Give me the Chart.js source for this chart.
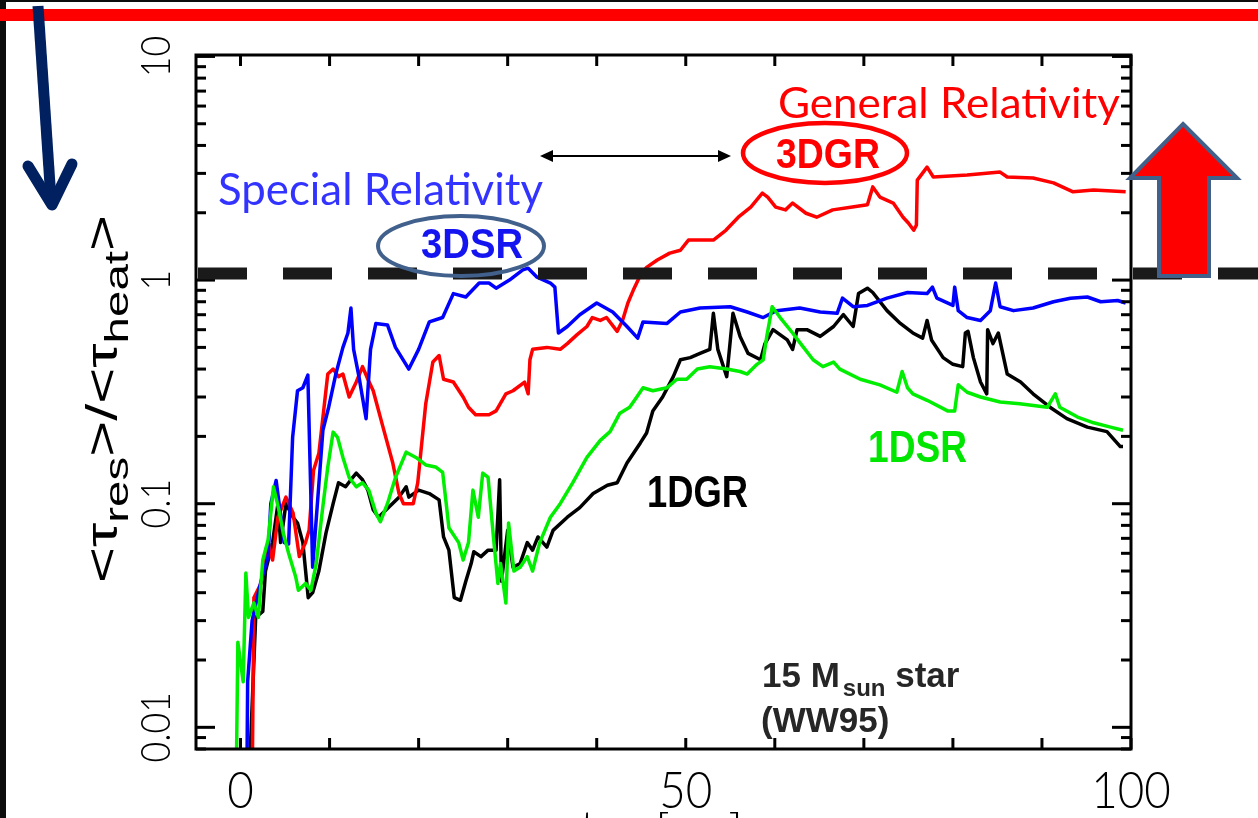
<!DOCTYPE html>
<html>
<head>
<meta charset="utf-8">
<script src="https://cdn.jsdelivr.net/npm/chart.js@4.4.1/dist/chart.umd.min.js"></script>
<style>
  html, body { margin: 0; padding: 0; background: #fff; overflow: hidden; }
  #wrap { position: relative; width: 1258px; height: 818px; }
</style>
</head>
<body>
<div id="wrap"><canvas id="chart" width="1258" height="818"></canvas></div>
<script>
// [t_pb in ms, <tau_res>/<tau_heat>]
var gr1d = [
  [0.9, 0.005], [1.7, 0.031], [2.5, 0.033], [2.8, 0.05], [3.6, 0.067], [4.2, 0.1], [4.5, 0.067],
  [5.1, 0.1], [5.9, 0.087], [6.4, 0.082], [7.0, 0.067], [7.6, 0.038], [8.1, 0.04], [8.8, 0.05],
  [9.6, 0.074], [10.4, 0.1], [11.0, 0.124], [11.8, 0.119], [12.4, 0.128], [13.0, 0.137],
  [13.7, 0.128], [14.3, 0.115], [14.9, 0.094], [15.5, 0.087], [16.7, 0.097], [17.8, 0.107],
  [18.6, 0.119], [18.9, 0.107], [20.0, 0.115], [21.2, 0.111], [22.3, 0.104], [22.8, 0.071],
  [23.4, 0.062], [24.0, 0.038], [24.7, 0.037], [25.3, 0.045], [25.9, 0.054], [26.2, 0.061],
  [27.0, 0.058], [27.8, 0.062], [28.7, 0.062], [29.1, 0.128], [29.3, 0.045], [30.0, 0.076],
  [30.6, 0.052], [31.4, 0.054], [32.2, 0.067], [32.8, 0.062], [33.4, 0.071], [34.4, 0.064],
  [35.1, 0.076], [36.7, 0.087], [38.1, 0.096], [39.6, 0.111], [41.2, 0.121], [42.3, 0.124],
  [43.4, 0.152], [44.9, 0.187], [45.6, 0.207], [46.3, 0.26], [47.4, 0.3], [48.6, 0.37],
  [49.4, 0.44], [50.5, 0.45], [51.6, 0.47], [52.7, 0.49], [53.1, 0.71], [53.6, 0.49],
  [54.6, 0.37], [55.3, 0.71], [56.1, 0.56], [57.0, 0.47], [58.4, 0.44], [58.9, 0.52],
  [59.8, 0.6], [61.4, 0.54], [62.0, 0.49], [62.5, 0.6], [63.6, 0.6], [65.1, 0.56], [66.6, 0.62],
  [67.7, 0.7], [68.8, 0.62], [69.4, 0.87], [70.4, 0.92], [71.0, 0.88], [72.6, 0.73], [74.1, 0.64],
  [75.5, 0.58], [76.6, 0.55], [77.1, 0.66], [77.6, 0.54], [78.9, 0.45], [80.0, 0.42], [81.1, 0.41],
  [81.4, 0.58], [81.7, 0.59], [82.3, 0.45], [83.1, 0.35], [83.8, 0.31], [83.9, 0.6], [84.5, 0.52],
  [85.1, 0.58], [86.1, 0.38], [87.6, 0.35], [89.0, 0.31], [90.9, 0.27], [92.8, 0.24], [95.1, 0.22],
  [97.3, 0.21], [98.8, 0.18], [99.1, 0.18]
];
var gr3d = [
  [1.3, 0.005], [1.5, 0.038], [2.3, 0.044], [3.1, 0.067], [3.6, 0.056], [4.2, 0.087], [5.1, 0.107],
  [5.9, 0.091], [6.6, 0.058], [7.3, 0.067], [7.7, 0.076], [8.2, 0.141], [8.8, 0.168], [9.8, 0.38],
  [10.4, 0.4], [11.0, 0.37], [11.5, 0.38], [12.2, 0.3], [13.0, 0.35], [13.7, 0.41], [14.3, 0.36],
  [14.9, 0.32], [16.0, 0.22], [17.1, 0.152], [17.8, 0.111], [18.3, 0.1], [19.4, 0.1], [19.9, 0.124],
  [20.8, 0.28], [21.6, 0.43], [22.3, 0.46], [22.8, 0.36], [23.9, 0.35], [25.0, 0.3], [25.6, 0.27],
  [26.4, 0.25], [27.9, 0.25], [28.7, 0.26], [29.8, 0.31], [30.6, 0.32], [31.9, 0.35], [32.3, 0.31],
  [32.5, 0.44], [32.8, 0.49], [34.4, 0.5], [35.9, 0.49], [36.7, 0.52], [37.8, 0.57], [38.9, 0.62],
  [39.5, 0.68], [40.4, 0.66], [41.1, 0.68], [42.3, 0.59], [42.9, 0.66], [43.5, 0.79], [44.1, 0.9],
  [44.9, 1.05], [45.6, 1.14], [46.8, 1.23], [48.2, 1.32], [49.4, 1.36], [50.3, 1.51], [53.1, 1.51],
  [54.5, 1.67], [55.9, 1.91], [57.3, 2.12], [58.6, 2.45], [59.2, 2.35], [60.1, 2.12], [61.2, 2.06],
  [62.0, 2.21], [63.5, 1.99], [64.7, 1.91], [66.5, 2.06], [68.7, 2.12], [70.4, 2.17], [71.0, 2.61],
  [71.8, 2.35], [73.3, 2.21], [74.4, 1.91], [75.0, 1.8], [75.6, 1.67], [75.9, 1.76], [76.0, 2.8],
  [77.1, 3.2], [77.8, 2.89], [81.6, 2.95], [85.3, 3.04], [86.1, 2.89], [89.0, 2.86], [91.3, 2.72],
  [93.5, 2.48], [95.8, 2.53], [99.4, 2.48]
];
var sr3d = [
  [0.7, 0.005], [0.8, 0.016], [1.3, 0.03], [2.3, 0.045], [3.1, 0.058], [3.4, 0.1], [4.0, 0.127],
  [4.9, 0.067], [5.4, 0.066], [5.85, 0.198], [6.4, 0.32], [7.0, 0.33], [7.56, 0.376], [8.1, 0.052],
  [9.25, 0.213], [9.9, 0.27], [10.7, 0.38], [11.5, 0.5], [12.06, 0.58], [12.4, 0.75], [12.7, 0.49],
  [13.3, 0.37], [14.1, 0.24], [14.6, 0.49], [15.2, 0.64], [16.5, 0.63], [17.4, 0.5], [18.9, 0.4],
  [20.0, 0.49], [21.2, 0.65], [22.7, 0.68], [23.9, 0.87], [25.3, 0.84], [26.8, 0.97], [27.9, 0.97],
  [28.7, 0.92], [30.2, 1.0], [31.7, 1.11], [32.3, 1.13], [33.3, 1.03], [34.8, 0.97], [35.3, 0.93],
  [35.7, 0.58], [36.7, 0.62], [38.1, 0.7], [40.0, 0.79], [41.8, 0.72], [43.4, 0.62], [44.6, 0.55],
  [45.2, 0.65], [47.9, 0.64], [49.4, 0.72], [51.6, 0.75], [55.0, 0.76], [56.9, 0.72], [58.7, 0.68],
  [60.2, 0.73], [62.8, 0.75], [65.1, 0.72], [67.0, 0.71], [67.6, 0.83], [68.8, 0.76], [70.4, 0.77],
  [72.6, 0.83], [74.9, 0.88], [77.1, 0.87], [77.7, 0.93], [78.2, 0.83], [80.0, 0.77], [80.2, 0.93],
  [80.6, 0.73], [81.6, 0.68], [83.1, 0.66], [84.2, 0.73], [84.8, 0.97], [85.3, 0.76], [86.8, 0.73],
  [89.0, 0.75], [91.3, 0.8], [93.2, 0.83], [95.1, 0.84], [96.6, 0.8], [98.5, 0.81], [99.4, 0.79]
];
var sr1d = [
  [-0.5, 0.005], [-0.3, 0.024], [0.3, 0.016], [0.6, 0.049], [0.9, 0.031], [1.5, 0.036], [2.0, 0.031],
  [2.5, 0.056], [3.1, 0.069], [3.7, 0.119], [4.3, 0.094], [4.8, 0.074], [5.4, 0.06], [6.2, 0.047],
  [6.5, 0.041], [7.3, 0.044], [7.9, 0.041], [8.5, 0.054], [9.2, 0.094], [9.8, 0.146], [10.4, 0.209],
  [10.9, 0.198], [11.5, 0.161], [12.2, 0.131], [13.0, 0.119], [13.7, 0.124], [14.4, 0.115],
  [15.2, 0.091], [15.7, 0.083], [16.5, 0.1], [17.4, 0.131], [18.6, 0.17], [19.7, 0.161],
  [20.8, 0.149], [21.9, 0.146], [22.7, 0.138], [23.1, 0.1], [23.4, 0.078], [24.5, 0.067],
  [25.0, 0.056], [25.6, 0.067], [26.1, 0.115], [26.7, 0.087], [27.2, 0.137], [27.8, 0.131],
  [28.4, 0.071], [28.9, 0.044], [29.2, 0.054], [29.8, 0.036], [30.1, 0.082], [30.7, 0.05],
  [31.4, 0.052], [32.2, 0.058], [32.8, 0.05], [33.6, 0.067], [34.8, 0.087], [35.9, 0.1],
  [37.3, 0.124], [38.9, 0.161], [40.4, 0.192], [41.5, 0.21], [42.6, 0.254], [43.7, 0.27],
  [44.5, 0.3], [45.2, 0.33], [46.3, 0.32], [47.9, 0.33], [49.0, 0.36], [50.1, 0.36], [51.3, 0.4],
  [52.7, 0.41], [54.6, 0.4], [56.1, 0.39], [56.9, 0.38], [58.0, 0.42], [58.7, 0.44], [59.1, 0.56],
  [59.7, 0.76], [60.6, 0.68], [62.0, 0.58], [62.9, 0.52], [64.3, 0.44], [65.4, 0.41], [66.6, 0.43],
  [67.3, 0.4], [69.6, 0.36], [71.8, 0.34], [73.7, 0.315], [74.3, 0.39], [74.9, 0.33], [75.5, 0.31],
  [77.1, 0.29], [79.4, 0.26], [80.2, 0.26], [80.6, 0.34], [81.6, 0.315], [83.1, 0.3], [85.3, 0.285],
  [87.5, 0.28], [90.6, 0.27], [91.5, 0.31], [92.0, 0.27], [94.0, 0.244], [95.8, 0.23], [97.7, 0.22],
  [99.1, 0.213]
];
var xTickValues = [0, 50, 100];
var yTickValues = [0.01, 0.1, 1, 10];
var yTickLabels = ["0.01", "0.1", "1", "10"];
var criticalRatio = 1.07;

var W = 1258, H = 818;

function toPoints(pairs) {
  return pairs.map(function (p) { return { x: p[0], y: p[1] }; });
}

function series(label, pairs, color) {
  return {
    label: label,
    data: toPoints(pairs),
    borderColor: color,
    borderWidth: 3.5,
    pointRadius: 0,
    tension: 0,
    fill: false,
    borderJoinStyle: "round"
  };
}

function line(ctx, x1, y1, x2, y2) {
  ctx.beginPath();
  ctx.moveTo(x1, y1);
  ctx.lineTo(x2, y2);
  ctx.stroke();
}

// draw text squeezed/stretched to a given width
function fitText(ctx, txt, left, base, width, font, color) {
  ctx.save();
  ctx.font = font;
  var w = ctx.measureText(txt).width;
  ctx.translate(left, base);
  ctx.scale(width / w, 1);
  ctx.fillStyle = color;
  ctx.textAlign = "left";
  ctx.textBaseline = "alphabetic";
  ctx.fillText(txt, 0, 0);
  ctx.restore();
}

// centred text, narrowed a bit like the plot's thin axis font
function narrowText(ctx, txt, x, y, font, sx) {
  ctx.save();
  ctx.font = font;
  ctx.translate(x, y);
  ctx.scale(sx, 1);
  ctx.fillText(txt, 0, 0);
  ctx.restore();
}

var slidePlugin = {
  id: "slide",
  beforeDraw: function (chart) {
    var ctx = chart.ctx;
    ctx.save();
    ctx.fillStyle = "#fff";
    ctx.fillRect(0, 0, W, H);
    ctx.fillStyle = "#0d0d0d";
    ctx.fillRect(0, 0, 6, H);
    ctx.fillRect(0, 0, W, 2);
    ctx.fillStyle = "#ff0000";
    ctx.fillRect(0, 9, W, 12);
    ctx.restore();
  },
  afterDraw: function (chart) {
    var ctx = chart.ctx;
    var a = chart.chartArea;
    var xs = chart.scales.x;
    var ys = chart.scales.y;
    ctx.save();

    // frame and inward ticks
    ctx.strokeStyle = "#000";
    ctx.lineWidth = 3;
    ctx.strokeRect(a.left, a.top, a.right - a.left, a.bottom - a.top);
    for (var t = 0; t <= 100; t += 10) {
      var px = xs.getPixelForValue(t);
      line(ctx, px, a.bottom, px, a.bottom - 11);
      line(ctx, px, a.top, px, a.top + 11);
    }
    for (var e = -3; e <= 1; e++) {
      for (var m = 1; m <= 9; m++) {
        var v = m * Math.pow(10, e);
        if (v < ys.min || v > ys.max) continue;
        var py = ys.getPixelForValue(v);
        var len = m === 1 ? 19 : 10;
        line(ctx, a.left, py, a.left + len, py);
        line(ctx, a.right, py, a.right - len, py);
      }
    }

    // x axis title, cut off by the bottom edge
    ctx.fillStyle = "#000";
    ctx.textAlign = "left";
    ctx.textBaseline = "alphabetic";
    ctx.font = "300 50px Lato";
    ctx.fillText("t", 580, 846);
    ctx.font = "300 36px Lato";
    ctx.fillText("pb", 594, 858);
    ctx.font = "300 50px Lato";
    ctx.fillText("[ms]", 655, 849);

    // tick labels
    ctx.textAlign = "center";
    ctx.textBaseline = "alphabetic";
    xTickValues.forEach(function (val) {
      narrowText(ctx, String(val), xs.getPixelForValue(val), 808, "300 52px Lato", 0.88);
    });
    ctx.textBaseline = "middle";
    yTickValues.forEach(function (val, i) {
      ctx.save();
      ctx.translate(156, ys.getPixelForValue(val));
      ctx.rotate(-Math.PI / 2);
      narrowText(ctx, yTickLabels[i], 0, 0, "300 42px Lato", 0.85);
      ctx.restore();
    });

    // y axis title <tau_res>/<tau_heat>
    var parts = [
      { t: "<\u03C4", s: 44, d: 0 },
      { t: "res", s: 34, d: 11 },
      { t: ">/<\u03C4", s: 44, d: 0 },
      { t: "heat", s: 34, d: 11 },
      { t: ">", s: 44, d: 0 }
    ];
    var total = 0;
    parts.forEach(function (p) {
      ctx.font = p.s + "px 'Liberation Sans'";
      p.w = ctx.measureText(p.t).width;
      total += p.w;
    });
    ctx.save();
    ctx.translate(117, 583);
    ctx.rotate(-Math.PI / 2);
    ctx.scale(368 / total, 1);
    ctx.textAlign = "left";
    ctx.textBaseline = "alphabetic";
    var off = 0;
    parts.forEach(function (p) {
      ctx.font = p.s + "px 'Liberation Sans'";
      ctx.fillText(p.t, off, p.d);
      off += p.w;
    });
    ctx.restore();

    // dashed line at the critical ratio
    var dy = ys.getPixelForValue(criticalRatio);
    ctx.save();
    ctx.setLineDash([49, 36]);
    ctx.lineWidth = 12;
    ctx.strokeStyle = "#1a1a1a";
    line(ctx, a.left + 2, dy, W, dy);
    ctx.restore();

    // labels
    fitText(ctx, "Special Relativity", 218, 205, 325, "44px Lato", "#3333ff");
    fitText(ctx, "General Relativity", 778, 118, 342, "43px Lato", "#ff0000");
    fitText(ctx, "3DSR", 421, 258, 102, "bold 42px 'Liberation Sans'", "#1414f0");
    fitText(ctx, "3DGR", 776, 168, 104, "bold 43px 'Liberation Sans'", "#ff0000");
    fitText(ctx, "1DGR", 647, 507, 101, "bold 44px 'Liberation Sans'", "#000000");
    fitText(ctx, "1DSR", 868, 462, 99, "bold 44px 'Liberation Sans'", "#00e600");

    ctx.lineWidth = 4;
    ctx.strokeStyle = "#41618c";
    ctx.beginPath();
    ctx.ellipse(461, 246, 83, 30, 0, 0, Math.PI * 2);
    ctx.stroke();
    ctx.lineWidth = 4.5;
    ctx.strokeStyle = "#ff0000";
    ctx.beginPath();
    ctx.ellipse(825, 153, 82, 30, 0, 0, Math.PI * 2);
    ctx.stroke();

    // double headed arrow between 3DSR and 3DGR
    ctx.strokeStyle = "#000";
    ctx.fillStyle = "#000";
    ctx.lineWidth = 2;
    line(ctx, 550, 156, 721, 156);
    ctx.beginPath();
    ctx.moveTo(540, 156); ctx.lineTo(553, 150); ctx.lineTo(553, 162); ctx.closePath();
    ctx.fill();
    ctx.beginPath();
    ctx.moveTo(731, 156); ctx.lineTo(718, 150); ctx.lineTo(718, 162); ctx.closePath();
    ctx.fill();

    // 15 Msun star (WW95)
    ctx.fillStyle = "#262626";
    ctx.textAlign = "left";
    ctx.textBaseline = "alphabetic";
    ctx.font = "bold 35px 'Liberation Sans'";
    ctx.fillText("15 M", 762, 687);
    var w1 = ctx.measureText("15 M").width;
    ctx.font = "bold 24px 'Liberation Sans'";
    ctx.fillText("sun", 762 + w1 + 3, 696);
    var w2 = ctx.measureText("sun").width;
    ctx.font = "bold 35px 'Liberation Sans'";
    ctx.fillText(" star", 762 + w1 + w2 + 3, 687);
    ctx.fillText("(WW95)", 761, 732);

    // navy arrow on the left
    ctx.strokeStyle = "#002060";
    ctx.lineWidth = 11;
    ctx.lineCap = "butt";
    line(ctx, 38, 6, 51, 200);
    ctx.lineCap = "round";
    ctx.lineJoin = "round";
    ctx.beginPath();
    ctx.moveTo(28, 166); ctx.lineTo(52, 205); ctx.lineTo(72, 164);
    ctx.stroke();

    // red block arrow on the right
    ctx.lineJoin = "miter";
    ctx.lineCap = "butt";
    ctx.beginPath();
    ctx.moveTo(1183, 124);
    ctx.lineTo(1237, 178);
    ctx.lineTo(1209, 178);
    ctx.lineTo(1209, 276);
    ctx.lineTo(1159, 276);
    ctx.lineTo(1159, 178);
    ctx.lineTo(1130, 178);
    ctx.closePath();
    ctx.fillStyle = "#ff0000";
    ctx.fill();
    ctx.lineWidth = 4;
    ctx.strokeStyle = "#41608a";
    ctx.stroke();

    ctx.restore();
  }
};

var ctx = document.getElementById("chart").getContext("2d");
var chart = new Chart(ctx, {
  type: "line",
  data: {
    datasets: [
      series("1DSR", sr1d, "#00ee00"),
      series("3DSR", sr3d, "#0000ff"),
      series("3DGR", gr3d, "#ff0000"),
      series("1DGR", gr1d, "#000000")
    ]
  },
  options: {
    responsive: false,
    animation: false,
    devicePixelRatio: 1,
    layout: { padding: { left: 196, top: 55, right: 127, bottom: 69 } },
    plugins: { legend: { display: false }, tooltip: { enabled: false } },
    scales: {
      x: { type: "linear", min: -5, max: 100, display: false },
      y: { type: "logarithmic", min: 0.008, max: 10.15, display: false }
    }
  },
  plugins: [slidePlugin]
});
</script>
</body>
</html>
